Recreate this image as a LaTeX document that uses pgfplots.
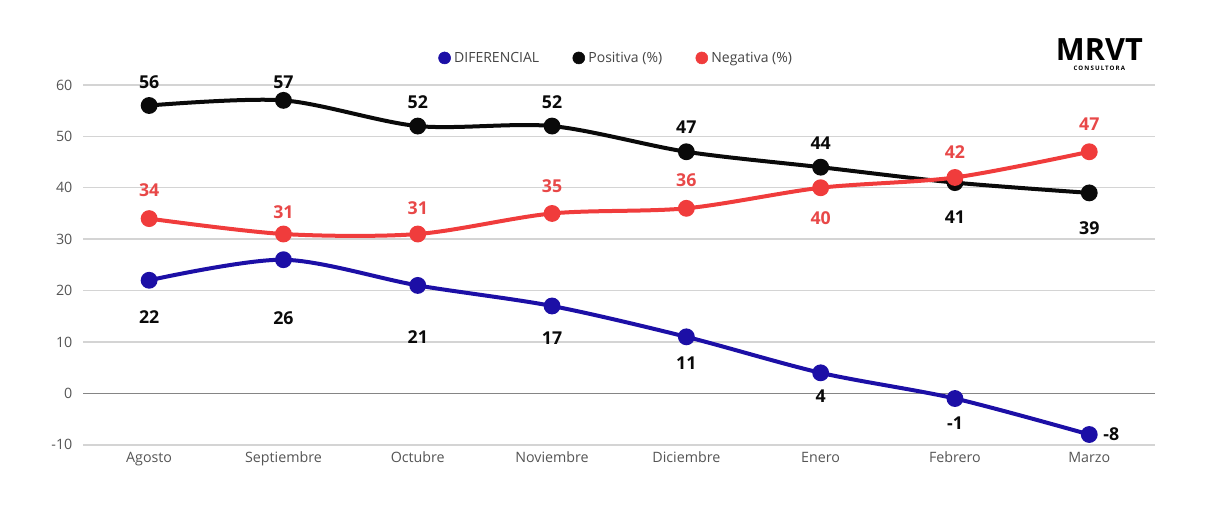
\documentclass[border=0pt]{standalone}
\usepackage{pgfplots}
\pgfplotsset{compat=1.18}
\usepackage{pgfplotstable}
\usepackage{fontspec}
\setmainfont{Open Sans}
\definecolor{difblue}{HTML}{1C0FA6}
\definecolor{posblack}{HTML}{0A0A0A}
\definecolor{negred}{HTML}{F03C3C}
\definecolor{negtext}{HTML}{E84848}
\definecolor{ticktext}{HTML}{555555}
\definecolor{gridgray}{HTML}{D4D4D4}
\definecolor{zerogray}{HTML}{858585}

\pgfplotstableread{
x y dy dx
0 22 -37 0
1 26 -58 0
2 21 -52 0
3 17 -32 0
4 11 -26 0
5 4 -23 0
6 -1 -25 0
7 -8 0 22
}\difdata
\pgfplotstableread{
x y dy dx
0 56 23 0
1 57 18 0
2 52 24 0
3 52 24 0
4 47 25 0
5 44 24 0
6 41 -35 0
7 39 -35 0
}\posdata
\pgfplotstableread{
x y dy dx
0 34 28 0
1 31 22 0
2 31 26 0
3 35 27 0
4 36 28 0
5 40 -30 0
6 42 25 0
7 47 28 0
}\negdata

\pgfplotsset{
  lbl/.style={
    nodes near coords,
    point meta=explicit,
    visualization depends on={\thisrow{dy} \as \dy},
    visualization depends on={\thisrow{dx} \as \dx},
    every node near coord/.append style={anchor=center, inner sep=0pt,
      xshift=\dx*0.75pt, yshift=\dy*0.75pt,
      font=\bfseries\fontsize{13.3}{15}\selectfont, text=#1},
  },
}

\begin{document}
\begin{tikzpicture}[x=1pt,y=1pt]
\useasboundingbox (0,0) rectangle (906,387);
\begin{axis}[
  at={(62.5pt,53.4pt)}, anchor=south west,
  scale only axis, width=803.8pt, height=269.9pt,
  xmin=-0.49, xmax=7.49, ymin=-10, ymax=60,
  clip=false,
  axis line style={draw=none},
  major tick length=0pt,
  xtick={0,1,2,3,4,5,6,7},
  xticklabels={Agosto,Septiembre,Octubre,Noviembre,Diciembre,Enero,Febrero,Marzo},
  ytick={-10,10,20,30,40,50,60},
  extra y ticks={0},
  extra y tick style={grid style={color=zerogray, line width=1.1pt}},
  ymajorgrids,
  grid style={color=gridgray, line width=1.1pt},
  /pgf/number format/assume math mode=true,
  tick label style={font=\fontsize{10.7}{12}\selectfont, text=ticktext},
  xticklabel style={anchor=base, yshift=-13.5pt},
  yticklabel style={anchor=east, inner sep=0pt, xshift=-8pt},
  legend columns=3,
  legend style={at={(axis description cs:0.331,1.075)}, anchor=west,
    draw=none, fill=none, inner sep=0pt,
    font=\fontsize{10.5}{12}\selectfont, text=ticktext!80!black,
    nodes={inner sep=2.5pt},
    /tikz/every even column/.append style={column sep=22.5pt}},
  legend cell align=left,
]
\addlegendimage{legend image code/.code={\fill[difblue] (4.5pt,0) circle (4.5pt);}}
\addlegendentry{DIFERENCIAL}
\addlegendimage{legend image code/.code={\fill[posblack] (4.5pt,0) circle (4.5pt);}}
\addlegendentry{Positiva (\%)}
\addlegendimage{legend image code/.code={\fill[negred] (4.5pt,0) circle (4.5pt);}}
\addlegendentry{Negativa (\%)}

\addplot[difblue, line width=3pt, smooth, mark=*, mark size=4.8pt, forget plot, lbl=posblack]
  table[x=x, y=y, meta=y] {\difdata};
\addplot[posblack, line width=3pt, smooth, mark=*, mark size=4.8pt, forget plot, lbl=posblack]
  table[x=x, y=y, meta=y] {\posdata};
\addplot[negred, line width=3pt, smooth, mark=*, mark size=4.8pt, forget plot, lbl=negtext]
  table[x=x, y=y, meta=y] {\negdata};
\end{axis}
\node[font=\fontsize{23}{23}\bfseries\selectfont, inner sep=0pt, anchor=base] at (824.5,341.5) {MRVT};
\node[font=\fontsize{4.6}{5}\bfseries\selectfont\addfontfeature{LetterSpace=18}, inner sep=0pt, anchor=base] at (824.5,334) {CONSULTORA};
\end{tikzpicture}
\end{document}
